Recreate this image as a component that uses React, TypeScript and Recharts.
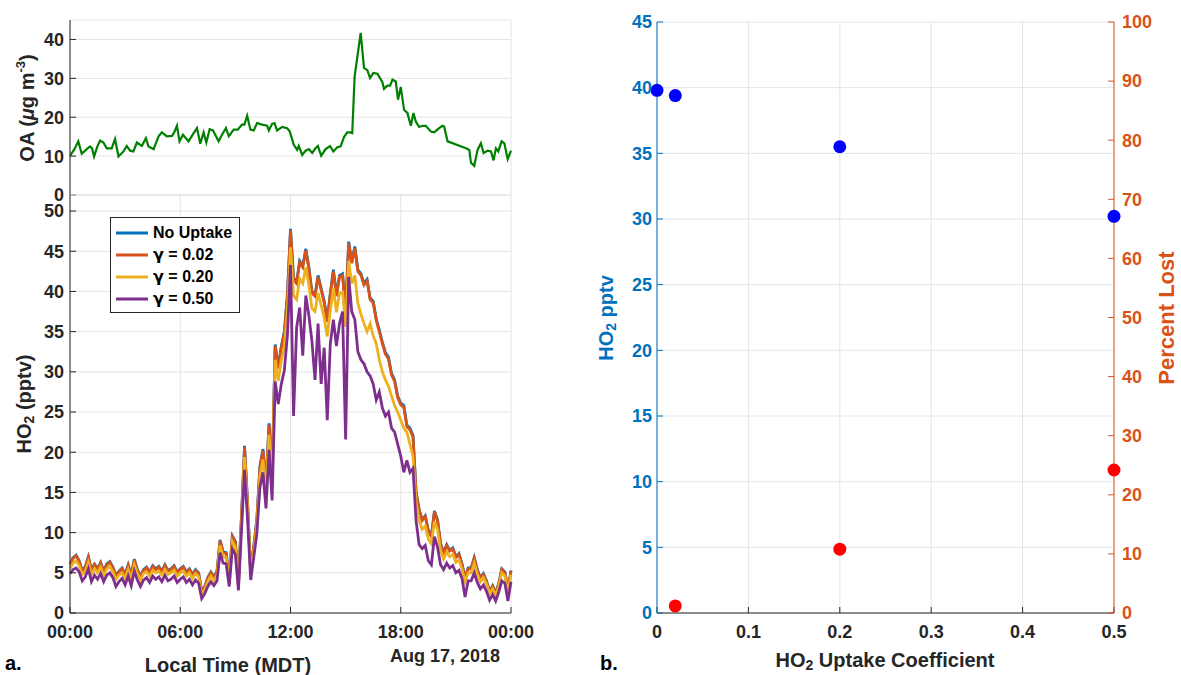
import React from 'react'
import { LineChart, Line, XAxis, YAxis, CartesianGrid, Legend, ScatterChart, Scatter } from 'recharts'

const FONT = '"Liberation Sans", Arial, Helvetica, sans-serif'
const INK = '#262626'
const GRID = '#e3e3e3'
const GRID_B = '#dfe5ec'
const BLUE_AX = '#0072BD'
const RED_AX = '#D95319'

// panel a, top: organic aerosol (hours since midnight, ug m-3)
const OA_HOURS = [
  0, 0.22, 0.45, 0.64, 0.91, 1.09, 1.2, 1.31, 1.49, 1.64, 1.82, 2.0, 2.27, 2.45, 2.64, 2.91, 3.09, 3.27, 3.45, 3.64,
  3.91, 4.13, 4.27, 4.55, 4.82, 5.0, 5.27, 5.55, 5.67, 5.82, 5.96, 6.15, 6.45, 6.73, 6.91, 7.09, 7.27, 7.42, 7.6, 7.78,
  8.09, 8.27, 8.49, 8.64, 8.91, 9.13, 9.36, 9.49, 9.64, 9.82, 10.0, 10.18, 10.45, 10.73, 10.82, 11.0, 11.13, 11.27, 11.55, 11.82,
  11.96, 12.18, 12.36, 12.45, 12.64, 12.82, 13.0, 13.18, 13.36, 13.49, 13.67, 13.91, 14.15, 14.33, 14.55, 14.73, 14.91, 15.09, 15.27, 15.36,
  15.49, 15.82, 16.0, 16.18, 16.33, 16.51, 16.73, 17.0, 17.09, 17.27, 17.42, 17.55, 17.73, 17.85, 18.0, 18.18, 18.36, 18.55, 18.69, 18.82,
  19.0, 19.18, 19.36, 19.64, 19.82, 20.09, 20.27, 20.36, 20.55, 21.55, 21.73, 21.82, 22.0, 22.18, 22.36, 22.51, 22.73, 22.91, 23.05, 23.18,
  23.31, 23.49, 23.64, 23.82, 24.0,
]
const OA_VALUES = [
  10.1, 11.6, 13.8, 10.6, 11.8, 12.5, 12.0, 9.9, 12.5, 14.0, 13.5, 12.0, 12.0, 14.4, 9.9, 11.2, 12.6, 11.4, 11.2, 13.5,
  12.6, 14.6, 12.5, 11.8, 15.1, 16.1, 15.1, 15.2, 16.1, 17.8, 13.8, 15.5, 13.8, 15.9, 17.2, 13.2, 16.1, 13.5, 16.9, 16.6,
  13.8, 15.5, 17.2, 15.1, 16.8, 16.8, 18.1, 18.1, 20.4, 16.8, 16.6, 18.5, 18.1, 17.8, 16.6, 18.3, 18.5, 16.6, 17.5, 17.2,
  16.3, 12.9, 11.6, 12.6, 10.3, 11.4, 11.8, 10.8, 12.0, 12.6, 10.1, 11.8, 12.6, 11.2, 12.3, 12.5, 14.9, 16.1, 16.1, 15.9,
  30.5, 41.7, 32.7, 32.1, 30.1, 31.4, 31.2, 29.0, 27.3, 28.1, 28.1, 29.7, 29.2, 24.5, 27.8, 21.9, 21.1, 17.8, 21.1, 18.9,
  17.5, 17.8, 17.8, 16.3, 16.1, 17.2, 17.8, 17.6, 13.8, 12.0, 11.6, 8.3, 7.5, 11.6, 13.3, 10.8, 11.4, 11.2, 8.9, 12.0,
  11.2, 13.8, 13.3, 9.2, 11.4,
]

// panel a, bottom: modelled HO2 (pptv), one value every 10 min from 00:00 to 24:00
const STEP_MIN = 10
const HO2_NO_UPTAKE = [
  6.1, 6.9, 7.2, 6.5, 5.3, 5.8, 7.0, 5.4, 6.1, 5.5, 6.3, 5.2,
  6.1, 6.4, 5.7, 4.7, 5.2, 5.6, 4.8, 6.0, 4.7, 6.7, 5.4, 4.6,
  5.4, 5.7, 5.1, 5.9, 5.5, 5.8, 5.2, 6.0, 5.3, 5.5, 5.9, 5.1,
  5.5, 5.8, 5.1, 5.5, 4.8, 5.4, 5.0, 2.7, 3.3, 4.4, 5.1, 4.5,
  5.2, 9.1, 7.6, 7.5, 4.3, 9.6, 8.9, 3.7, 12.1, 20.8, 13.6, 5.1,
  8.3, 11.6, 18.2, 20.4, 16.1, 23.6, 17.2, 33.4, 30.6, 33.2, 35.0, 39.7,
  47.8, 41.7, 41.2, 43.8, 43.2, 45.3, 43.0, 40.0, 39.6, 42.0, 40.4, 38.8,
  36.4, 39.8, 42.7, 39.6, 42.0, 42.2, 37.7, 46.2, 43.7, 45.6, 42.7, 42.2,
  41.0, 41.5, 39.2, 38.8, 36.6, 35.2, 33.7, 32.4, 31.8, 29.8, 29.0, 27.0,
  26.1, 25.8, 23.4, 23.0, 22.1, 15.1, 12.9, 11.6, 12.1, 10.3, 9.6, 12.7,
  11.6, 8.7, 7.5, 8.5, 7.8, 8.1, 7.0, 7.4, 6.1, 4.4, 5.6, 5.6,
  6.9, 5.4, 4.4, 4.9, 4.0, 2.7, 3.4, 2.5, 3.7, 5.5, 5.1, 2.9,
  5.3,
]
const HO2_G002 = [
  6.0, 6.8, 7.1, 6.4, 5.2, 5.7, 6.9, 5.3, 6.0, 5.4, 6.2, 5.1,
  6.0, 6.3, 5.6, 4.6, 5.1, 5.5, 4.7, 5.9, 4.6, 6.6, 5.3, 4.5,
  5.3, 5.6, 5.0, 5.8, 5.4, 5.7, 5.1, 5.9, 5.2, 5.4, 5.8, 5.0,
  5.4, 5.7, 5.0, 5.4, 4.7, 5.3, 4.9, 2.6, 3.2, 4.3, 5.0, 4.4,
  5.1, 9.0, 7.5, 7.4, 4.2, 9.5, 8.8, 3.6, 12.0, 20.6, 13.5, 5.0,
  8.2, 11.5, 18.0, 20.2, 16.0, 23.4, 17.0, 33.2, 30.4, 33.0, 34.8, 39.5,
  47.6, 41.5, 41.0, 43.6, 43.0, 45.1, 42.8, 39.8, 39.4, 41.8, 40.2, 38.6,
  36.2, 39.6, 42.5, 39.4, 41.8, 42.0, 37.5, 46.0, 43.5, 45.4, 42.5, 42.0,
  40.8, 41.3, 39.0, 38.6, 36.4, 35.0, 33.5, 32.2, 31.6, 29.6, 28.8, 26.8,
  25.9, 25.6, 23.2, 22.8, 21.9, 15.0, 12.8, 11.5, 12.0, 10.2, 9.5, 12.6,
  11.5, 8.6, 7.4, 8.4, 7.7, 8.0, 6.9, 7.3, 6.0, 4.3, 5.5, 5.5,
  6.8, 5.3, 4.3, 4.8, 3.9, 2.6, 3.3, 2.4, 3.6, 5.4, 5.0, 2.8,
  5.2,
]
const HO2_G020 = [
  5.5, 6.2, 6.5, 5.9, 4.8, 5.2, 6.3, 4.8, 5.5, 5.0, 5.7, 4.7,
  5.5, 5.8, 5.1, 4.2, 4.7, 5.0, 4.3, 5.4, 4.2, 6.0, 4.9, 4.1,
  4.9, 5.1, 4.6, 5.3, 5.0, 5.2, 4.7, 5.4, 4.8, 5.0, 5.3, 4.6,
  5.0, 5.2, 4.6, 5.0, 4.3, 4.9, 4.5, 2.3, 2.9, 3.9, 4.6, 4.0,
  4.7, 8.4, 7.0, 6.9, 3.9, 8.9, 8.2, 3.3, 11.3, 19.4, 12.7, 4.7,
  7.7, 10.8, 17.0, 19.1, 15.1, 22.2, 16.1, 31.5, 28.9, 31.4, 33.1, 37.6,
  45.5, 39.5, 39.0, 41.6, 41.0, 43.0, 40.8, 37.9, 37.5, 39.8, 38.3, 36.7,
  34.4, 37.6, 40.4, 37.4, 39.8, 39.9, 35.6, 43.8, 41.0, 42.0, 38.5, 37.2,
  36.0, 35.0, 36.0, 34.5, 33.5, 31.5, 30.0, 29.0, 28.2, 27.0, 25.8, 25.0,
  24.0, 23.0, 22.5, 21.0, 19.5, 13.8, 11.5, 10.4, 10.8, 9.2, 8.6, 11.4,
  10.4, 7.8, 6.7, 7.6, 7.0, 7.3, 6.3, 6.6, 5.5, 3.9, 5.0, 5.0,
  6.2, 4.8, 3.9, 4.4, 3.6, 2.4, 3.0, 2.2, 3.3, 5.0, 4.6, 2.6,
  4.8,
]
const HO2_G050 = [
  4.9, 5.4, 5.6, 5.1, 4.0, 4.5, 5.5, 3.9, 4.7, 4.2, 4.9, 3.9,
  4.7, 5.0, 4.4, 3.3, 3.9, 4.3, 3.5, 4.6, 3.4, 5.2, 4.1, 3.3,
  4.1, 4.4, 3.8, 4.6, 4.2, 4.5, 3.9, 4.7, 4.0, 4.2, 4.6, 3.8,
  4.2, 4.5, 3.8, 4.2, 3.5, 4.1, 3.7, 1.8, 2.4, 3.3, 3.9, 3.4,
  4.0, 7.5, 6.2, 6.1, 3.3, 8.0, 7.3, 2.8, 10.3, 17.8, 11.5, 4.1,
  6.9, 9.8, 15.6, 17.5, 13.0, 20.3, 14.0, 28.8, 26.0, 28.5, 30.2, 34.6,
  43.3, 24.5, 35.5, 38.0, 32.0, 39.5, 37.0, 33.8, 29.0, 36.0, 28.5, 33.0,
  24.0, 33.5, 36.5, 33.2, 36.0, 37.5, 21.6, 41.8, 37.5, 36.5, 32.5, 31.5,
  31.0, 30.0, 29.5, 28.5, 26.5, 27.5, 25.5, 24.5, 25.0, 23.0, 22.5, 21.0,
  19.5, 17.5, 19.0, 17.5, 18.0, 11.5, 8.5, 8.0, 8.4, 6.5, 6.0, 9.5,
  8.2, 6.0, 5.4, 6.2, 5.6, 5.9, 5.0, 5.3, 4.3, 2.0, 4.0, 4.0,
  5.0, 3.8, 3.0, 3.5, 2.7, 1.6, 2.3, 1.5, 2.6, 4.0, 3.7, 1.5,
  3.9,
]

const TIME_TICKS = [0, 6, 12, 18, 24]
const TIME_LABELS = ['00:00', '06:00', '12:00', '18:00', '00:00']
const OA_TICKS = [0, 10, 20, 30, 40]
const HO2_TICKS = [0, 5, 10, 15, 20, 25, 30, 35, 40, 45, 50]

// panel b
const GAMMA = [0, 0.02, 0.2, 0.5]
const HO2_MEAN = [39.8, 39.4, 35.5, 30.2]
const GAMMA_LOST = [0.02, 0.2, 0.5]
const PERCENT_LOST = [1.2, 10.8, 24.2]
const GAMMA_TICKS = [0, 0.1, 0.2, 0.3, 0.4, 0.5]
const PPTV_TICKS = [0, 5, 10, 15, 20, 25, 30, 35, 40, 45]
const PCT_TICKS = [0, 10, 20, 30, 40, 50, 60, 70, 80, 90, 100]

const SERIES = [
  { key: 'noUptake', name: 'No Uptake', color: '#0072BD', values: HO2_NO_UPTAKE },
  { key: 'g002', name: 'γ = 0.02', color: '#D95319', values: HO2_G002 },
  { key: 'g020', name: 'γ = 0.20', color: '#EDB120', values: HO2_G020 },
  { key: 'g050', name: 'γ = 0.50', color: '#7E2F8E', values: HO2_G050 },
]

const oaData = OA_HOURS.map((t, i) => ({ t, oa: OA_VALUES[i] }))
const ho2Data = HO2_NO_UPTAKE.map((_, i) => {
  const row: Record<string, number> = { t: (i * STEP_MIN) / 60 }
  SERIES.forEach(s => { row[s.key] = s.values[i] })
  return row
})
const meanData = GAMMA.map((g, i) => ({ g, v: HO2_MEAN[i] }))
const lostData = GAMMA_LOST.map((g, i) => ({ g, v: PERCENT_LOST[i] }))

const tickFont = { fill: INK, fontSize: 18, fontWeight: 700, fontFamily: FONT }
const timeLabel = (v: number) => TIME_LABELS[TIME_TICKS.indexOf(v)] ?? ''

// greek gamma looks closer to the original in DejaVu
const legendText = (label: string) =>
  label.startsWith('γ')
    ? <><span style={{ fontFamily: '"DejaVu Sans", sans-serif' }}>γ</span>{label.slice(1)}</>
    : label

const renderLegend = (props: any) => (
  <div style={{ border: `1px solid ${INK}`, background: '#fff', padding: '4px 4px 2px 5px', width: 130, boxSizing: 'border-box' }}>
    {(props.payload || []).map((item: any) => (
      <div key={item.value} style={{ display: 'flex', alignItems: 'center', height: 22, whiteSpace: 'nowrap' }}>
        <svg width={32} height={6} style={{ flex: 'none' }}>
          <line x1={0} y1={3} x2={32} y2={3} stroke={item.color} strokeWidth={3} />
        </svg>
        <span style={{ marginLeft: 5, fontFamily: FONT, fontWeight: 700, fontSize: 16, color: '#000', lineHeight: '22px' }}>{legendText(item.value)}</span>
      </div>
    ))}
  </div>
)

const dot = (color: string) => (props: any) => <circle cx={props.cx} cy={props.cy} r={6.5} fill={color} />

export default function App() {
  return (
    <div style={{ position: 'absolute', left: 0, top: 0, width: 1181, height: 675, background: '#fff' }}>
      {/* a. top: OA */}
      <div style={{ position: 'absolute', left: 0, top: 0 }}>
        <LineChart width={560} height={215} data={oaData} margin={{ top: 20, right: 49, bottom: 20, left: 0 }}>
          <CartesianGrid stroke={GRID} strokeWidth={1} />
          <XAxis type="number" dataKey="t" domain={[0, 24]} ticks={TIME_TICKS} interval={0} tick={false} height={0} tickSize={-6} stroke={INK} />
          <XAxis xAxisId="top" orientation="top" type="number" dataKey="t" domain={[0, 24]} ticks={TIME_TICKS} interval={0} tick={false} height={0} tickSize={-6} stroke={INK} />
          <YAxis type="number" domain={[0, 45]} ticks={OA_TICKS} interval={0} width={70} tickSize={-6} tickMargin={12} tick={tickFont} stroke={INK} />
          <YAxis yAxisId="right" orientation="right" type="number" domain={[0, 45]} ticks={OA_TICKS} interval={0} width={0} tick={false} tickSize={-6} stroke={INK} />
          <Line type="linear" dataKey="oa" stroke="#008000" strokeWidth={2.2} dot={false} isAnimationActive={false} />
        </LineChart>
      </div>

      {/* a. bottom: HO2 */}
      <div style={{ position: 'absolute', left: 0, top: 175 }}>
        <LineChart width={560} height={470} data={ho2Data} margin={{ top: 20, right: 49, bottom: 0, left: 0 }}>
          <CartesianGrid stroke={GRID} strokeWidth={1} />
          <XAxis type="number" dataKey="t" domain={[0, 24]} ticks={TIME_TICKS} interval={0} height={32} tickSize={-6} tickMargin={18} tick={tickFont} tickFormatter={timeLabel} stroke={INK} />
          <XAxis xAxisId="top" orientation="top" type="number" dataKey="t" domain={[0, 24]} ticks={TIME_TICKS} interval={0} tick={false} height={0} tickSize={-6} stroke={INK} />
          <YAxis type="number" domain={[0, 52]} ticks={HO2_TICKS} interval={0} width={70} tickSize={-6} tickMargin={12} tick={tickFont} stroke={INK} />
          <YAxis yAxisId="right" orientation="right" type="number" domain={[0, 52]} ticks={HO2_TICKS} interval={0} width={0} tick={false} tickSize={-6} stroke={INK} />
          <Legend layout="vertical" align="center" verticalAlign="middle" content={renderLegend} wrapperStyle={{ left: 110, top: 42, width: 130 }} />
          {SERIES.map(s => (
            <Line key={s.key} type="linear" dataKey={s.key} name={s.name} stroke={s.color} strokeWidth={2.8} dot={false} isAnimationActive={false} />
          ))}
        </LineChart>
      </div>

      {/* b. uptake coefficient */}
      <div style={{ position: 'absolute', left: 590, top: 0 }}>
        <ScatterChart width={591} height={675} margin={{ top: 22, right: 0, bottom: 0, left: 0 }}>
          <CartesianGrid stroke={GRID_B} strokeWidth={1} yAxisId="left" />
          <XAxis type="number" dataKey="g" domain={[0, 0.5]} ticks={GAMMA_TICKS} interval={0} height={62} tickSize={-6} tickMargin={18} tick={tickFont} stroke={INK} />
          <XAxis xAxisId="top" orientation="top" type="number" dataKey="g" domain={[0, 0.5]} ticks={GAMMA_TICKS} interval={0} height={0} tick={false} tickSize={-6} stroke={INK} />
          <YAxis yAxisId="left" type="number" dataKey="v" domain={[0, 45]} ticks={PPTV_TICKS} interval={0} width={67} tickSize={-6} tickMargin={11} tick={{ ...tickFont, fill: BLUE_AX }} stroke={BLUE_AX} />
          <YAxis yAxisId="right" orientation="right" type="number" dataKey="v" domain={[0, 100]} ticks={PCT_TICKS} interval={0} width={67} tickSize={-6} tickMargin={14} tick={{ ...tickFont, fill: RED_AX, textAnchor: 'start' }} stroke={RED_AX} />
          <Scatter name="HO2 pptv" data={meanData} yAxisId="left" fill="#0000FF" shape={dot('#0000FF')} isAnimationActive={false} />
          <Scatter name="Percent Lost" data={lostData} yAxisId="right" fill="#FF0000" shape={dot('#FF0000')} isAnimationActive={false} />
        </ScatterChart>
      </div>

      {/* titles */}
      <svg width={1181} height={675} style={{ position: 'absolute', left: 0, top: 0, pointerEvents: 'none' }} fontFamily={FONT} fontWeight={700}>
        <text x={27} y={108} transform="rotate(-90 27 108)" textAnchor="middle" dominantBaseline="central" fontSize={20} fill={INK}>
          OA (<tspan fontStyle="italic">μ</tspan>g m<tspan dy={-7} fontSize={13}>-3</tspan><tspan dy={7}>)</tspan>
        </text>
        <text x={24} y={404} transform="rotate(-90 24 404)" textAnchor="middle" dominantBaseline="central" fontSize={20} fill={INK}>
          HO<tspan dy={5} fontSize={14}>2</tspan><tspan dy={-5}> (pptv)</tspan>
        </text>
        <text x={228} y={665} textAnchor="middle" dominantBaseline="central" fontSize={20} fill={INK}>Local Time (MDT)</text>
        <text x={445} y={656} textAnchor="middle" dominantBaseline="central" fontSize={18} fill={INK}>Aug 17, 2018</text>
        <text x={5} y={663} dominantBaseline="central" fontSize={20} fill="#000">a.</text>
        <text x={600} y={663} dominantBaseline="central" fontSize={20} fill="#000">b.</text>
        <text x={606} y={318} transform="rotate(-90 606 318)" textAnchor="middle" dominantBaseline="central" fontSize={20} fill={BLUE_AX}>
          HO<tspan dy={5} fontSize={14}>2</tspan><tspan dy={-5}> pptv</tspan>
        </text>
        <text x={1166} y={318} transform="rotate(-90 1166 318)" textAnchor="middle" dominantBaseline="central" fontSize={22} fill={RED_AX}>Percent Lost</text>
        <text x={885} y={660} textAnchor="middle" dominantBaseline="central" fontSize={20} fill={INK}>
          HO<tspan dy={5} fontSize={14}>2</tspan><tspan dy={-5}> Uptake Coefficient</tspan>
        </text>
      </svg>
    </div>
  )
}
